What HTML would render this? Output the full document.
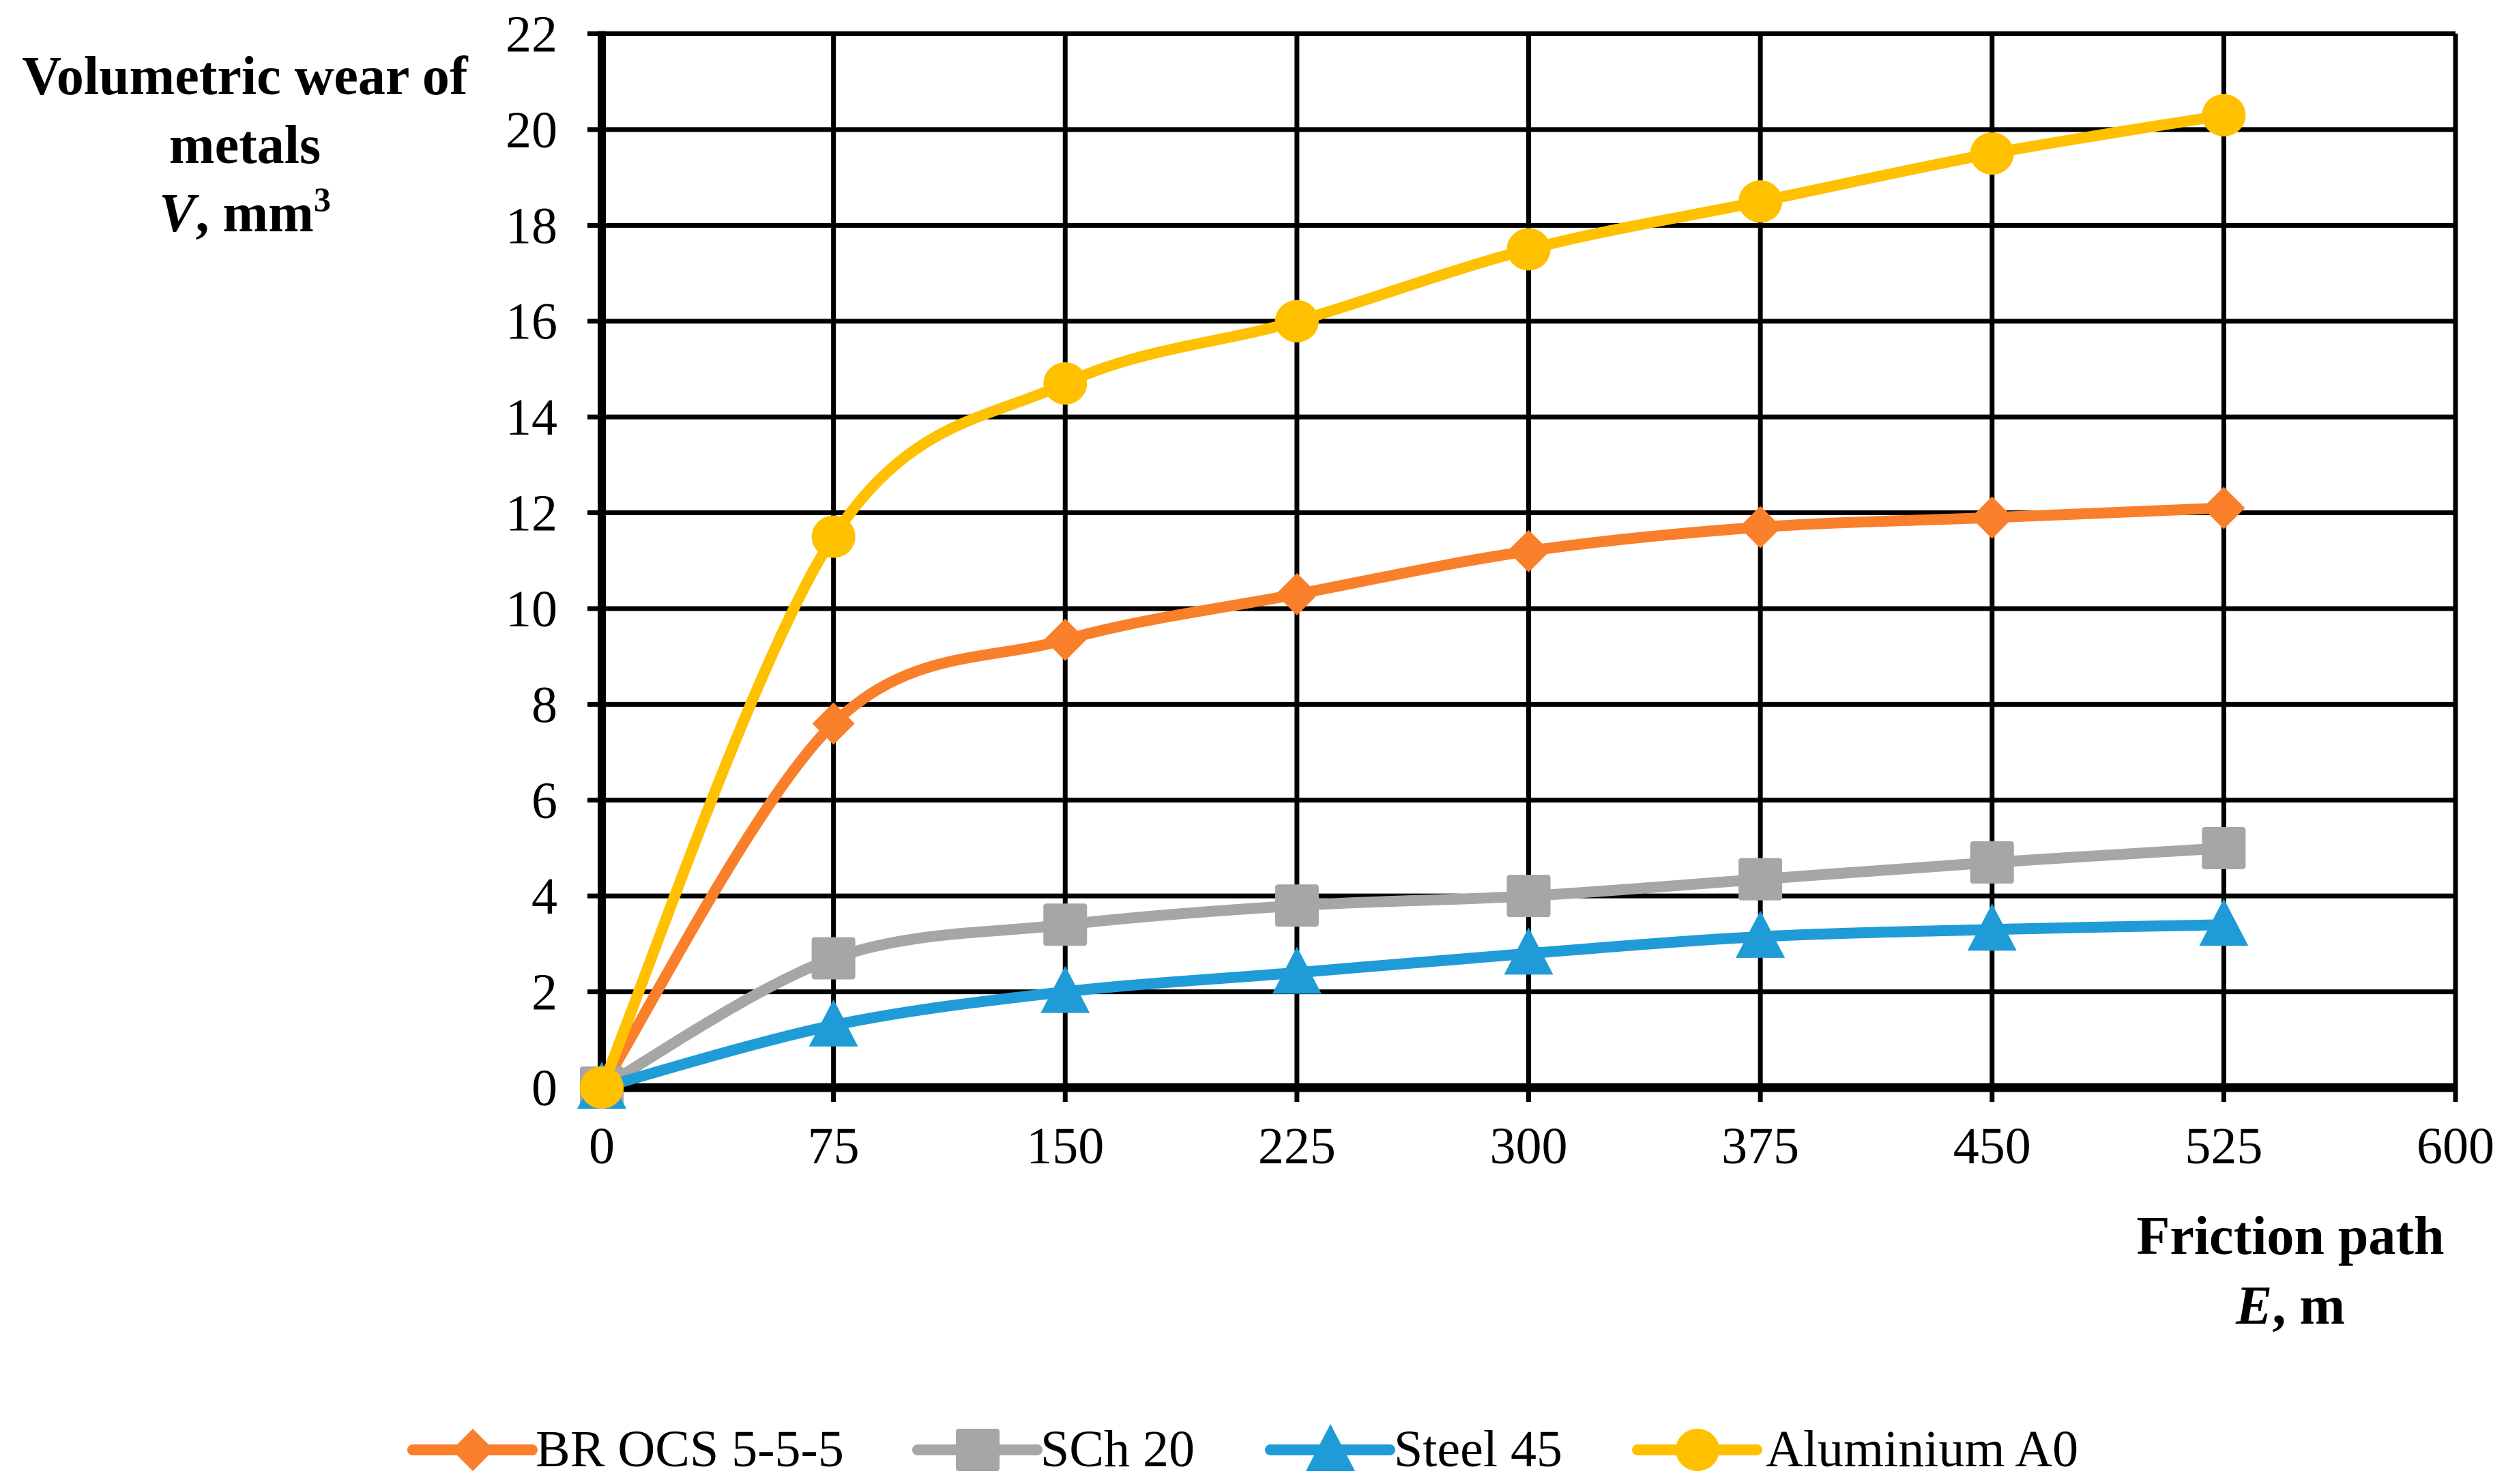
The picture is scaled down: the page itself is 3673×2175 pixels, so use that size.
<!DOCTYPE html>
<html><head><meta charset="utf-8"><style>
html,body{margin:0;padding:0;background:#fff;}
svg{display:block;}
text{font-family:"Liberation Serif",serif;fill:#000;}
</style></head><body>
<svg id="chart" width="3673" height="2175" viewBox="0 0 3673 2175" xmlns="http://www.w3.org/2000/svg">
<g id="grid"></g>
<g id="series"></g>
<g id="ticks"></g>
<text text-anchor="middle" font-weight="bold" font-size="80"><tspan x="359" y="138">Volumetric wear of</tspan><tspan x="359" y="239">metals</tspan><tspan x="359" y="339"><tspan font-style="italic">V</tspan>, mm<tspan font-size="50" dy="-30">3</tspan></tspan></text>
<text text-anchor="middle" font-weight="bold" font-size="80"><tspan x="3357" y="1838">Friction path</tspan><tspan x="3357" y="1940"><tspan font-style="italic">E</tspan>, m</tspan></text>
<g id="legend"></g>
</svg>
<script>
const xValues = [0, 75, 150, 225, 300, 375, 450, 525];
const brOcs = [0, 7.6, 9.35, 10.3, 11.2, 11.7, 11.9, 12.1];
const sch20 = [0, 2.7, 3.4, 3.8, 4.0, 4.35, 4.7, 5.0];
const steel45 = [0, 1.3, 2.0, 2.4, 2.8, 3.15, 3.3, 3.4];
const aluminium = [0, 11.5, 14.7, 16.0, 17.5, 18.5, 19.5, 20.3];
const seriesNames = ["BR OCS 5-5-5", "SCh 20", "Steel 45", "Aluminium A0"];
const xTicks = [0, 75, 150, 225, 300, 375, 450, 525, 600];
const yTicks = [0, 2, 4, 6, 8, 10, 12, 14, 16, 18, 20, 22];

const NS = "http://www.w3.org/2000/svg";
const X0 = 882, X1 = 3599, Y0 = 1594, Y1 = 49.5;
const xMax = 600, yMax = 22;
function sx(v){return X0 + (X1 - X0) * v / xMax;}
function sy(v){return Y0 - (Y0 - Y1) * v / yMax;}
function mk(tag, parent, attrs){const e=document.createElementNS(NS,tag);for(const k in attrs)e.setAttribute(k,attrs[k]);parent.appendChild(e);return e;}

const grid = document.getElementById('grid');
yTicks.forEach(t=>{
  if(t===0) return;
  const l = mk('line', grid, {x1:861, x2:X1, y1:sy(t), y2:sy(t), stroke:'#000','stroke-width':7});
  
  
});
xTicks.forEach(t=>{
  if(t===0) return;
  const l = mk('line', grid, {x1:sx(t), x2:sx(t), y1:Y1, y2:1615, stroke:'#000','stroke-width':7});
  
  
});
const ya = mk('line', grid, {x1:X0, x2:X0, y1:Y1-4, y2:Y0+6, stroke:'#000','stroke-width':12});


const yt = mk('line', grid, {x1:861, x2:X0, y1:sy(0), y2:sy(0), stroke:'#000','stroke-width':7});


const xa = mk('line', grid, {x1:X0, x2:X1+3, y1:Y0, y2:Y0, stroke:'#000','stroke-width':13});



const ticks = document.getElementById('ticks');
yTicks.forEach(t=>{
  const e = mk('text', ticks, {x:817, y:sy(t)+26, 'text-anchor':'end','font-size':76});
  e.textContent = t;
  
  
});
xTicks.forEach(t=>{
  const e = mk('text', ticks, {x:sx(t), y:1705, 'text-anchor':'middle','font-size':76});
  e.textContent = t;
  
  
});

function smoothPath(xs, ys){
  const p = xs.map((x,i)=>[sx(x), sy(ys[i])]);
  let d = 'M'+p[0][0]+','+p[0][1];
  for(let i=0;i<p.length-1;i++){
    const a=p[Math.max(0,i-1)], b=p[i], c=p[i+1], e=p[Math.min(p.length-1,i+2)];
    const c1=[b[0]+(c[0]-a[0])/6, b[1]+(c[1]-a[1])/6];
    const c2=[c[0]-(e[0]-b[0])/6, c[1]-(e[1]-b[1])/6];
    d+=' C'+c1[0]+','+c1[1]+' '+c2[0]+','+c2[1]+' '+c[0]+','+c[1];
  }
  return d;
}
function marker(parent, type, x, y, color){
  let e;
  if(type==='diamond') e = mk('polygon', parent, {points:`${x},${y-31} ${x+31},${y} ${x},${y+31} ${x-31},${y}`, fill:color});
  else if(type==='square') e = mk('rect', parent, {x:x-32, y:y-31, width:64, height:62, rx:4, fill:color});
  else if(type==='triangle') e = mk('polygon', parent, {points:`${x},${y-38} ${x+36},${y+31} ${x-36},${y+31}`, fill:color});
  else e = mk('ellipse', parent, {cx:x, cy:y, rx:32, ry:31, fill:color});
  return e;
}
const allSeries = [
  {vals:brOcs, color:'#F97F2A', m:'diamond', key:'br-ocs'},
  {vals:sch20, color:'#A6A6A6', m:'square', key:'sch20'},
  {vals:steel45, color:'#1F9BD7', m:'triangle', key:'steel45'},
  {vals:aluminium, color:'#FFC000', m:'circle', key:'aluminium'}
];
const sg = document.getElementById('series');
allSeries.forEach(s=>{
  const g = mk('g', sg, {});
  
  
  const path = mk('path', g, {d:smoothPath(xValues, s.vals), fill:'none', stroke:s.color, 'stroke-width':16, 'stroke-linecap':'round'});
  
  
  s.vals.forEach((v,i)=>{
    const m = marker(g, s.m, sx(xValues[i]), sy(v), s.color);
    
    
  });
});

const lg = document.getElementById('legend');
const legX = [605, 1345, 1862, 2400];
const legTextX = [785, 1525, 2043, 2588];
allSeries.forEach((s,i)=>{
  const g = mk('g', lg, {});
  
  
  mk('line', g, {x1:legX[i], x2:legX[i]+175, y1:2125, y2:2125, stroke:s.color, 'stroke-width':16, 'stroke-linecap':'round'});
  marker(g, s.m, legX[i]+88, 2125, s.color);
  const t = mk('text', g, {x:legTextX[i], y:2149, 'font-size':76});
  t.textContent = seriesNames[i];
});
</script>
</body></html>
